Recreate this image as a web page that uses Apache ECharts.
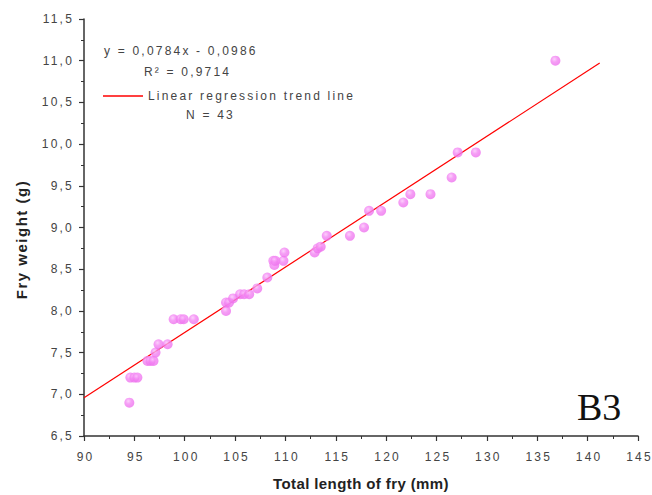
<!DOCTYPE html>
<html>
<head>
<meta charset="utf-8">
<script src="https://cdn.jsdelivr.net/npm/echarts@6/dist/echarts.min.js"></script>
<style>
  html, body { margin: 0; padding: 0; background: #fff; }
  #chart { width: 652px; height: 495px; }
  /* loosely tracked Arial-style lettering */
  #chart text { letter-spacing: 2.2px; }
  #chart text.title { letter-spacing: 0.4px; }
  #chart text.ytitle { letter-spacing: 1.5px; }
  #chart text.tight { letter-spacing: 0; }
</style>
</head>
<body>
<div id="chart"></div>
<script>
// Total length (mm) and weight (g) of each measured fry
const lengthMm = [
  94.5, 94.6, 95.0, 95.3, 96.3, 96.6, 96.9, 97.1, 97.4, 98.3,
  98.9, 99.6, 99.9, 100.9, 104.1, 104.1, 104.4, 104.8, 105.5, 105.9,
  106.4, 107.2, 108.2, 108.8, 108.9, 109.0, 109.8, 109.9, 112.9, 113.2,
  113.5, 114.1, 116.4, 117.8, 118.3, 119.5, 121.7, 122.4, 124.4, 126.5,
  127.1, 128.9, 136.8
];
const weightG = [
  6.9, 7.2, 7.2, 7.2, 7.4, 7.4, 7.4, 7.5, 7.6, 7.6,
  7.9, 7.9, 7.9, 7.9, 8.0, 8.1, 8.1, 8.15, 8.2, 8.2,
  8.2, 8.27, 8.4, 8.6, 8.55, 8.6, 8.6, 8.7, 8.7, 8.75,
  8.77, 8.9, 8.9, 9.0, 9.2, 9.2, 9.3, 9.4, 9.4, 9.6,
  9.9, 9.9, 11.0
];

// Fitted regression y = a·x + b, drawn over this length range
const slope = 0.0784;
const intercept = -0.0986;
const trendX = [90, 141.2];

const xTicks = { min: 90, max: 145, step: 5 };
const yTicks = { min: 6.5, max: 11.5, step: 0.5 };

const labelLines = ['y = 0,0784x - 0,0986', 'R\u00b2 = 0,9714', 'N = 43'];
const trendName = 'Linear regression trend line';
const xName = 'Total length of fry (mm)';
const yName = 'Fry weight (g)';
const panelTag = 'B3';

const points = lengthMm.map((x, i) => [x, weightG[i]]);
const trend = trendX.map(x => [x, slope * x + intercept]);

const fmt = v => v.toFixed(1).replace('.', ',');
const labelFont = 'Liberation Sans, Arial, sans-serif';

const chart = echarts.init(document.getElementById('chart'), null, { renderer: 'svg' });
chart.setOption({
  animation: false,
  backgroundColor: '#ffffff',
  grid: { left: 84, right: 14, top: 19, bottom: 59, containLabel: false, outerBoundsMode: 'none' },
  xAxis: {
    type: 'value',
    min: xTicks.min, max: xTicks.max, interval: xTicks.step,
    name: xName,
    nameLocation: 'middle', nameGap: 40,
    nameTextStyle: { fontFamily: labelFont, fontWeight: 'bold', fontSize: 15, color: '#222' },
    axisLine: { lineStyle: { color: '#333', width: 1.5 } },
    axisTick: { inside: false, length: 5, lineStyle: { color: '#333', width: 1.2 } },
    minorTick: { show: true, splitNumber: 2, length: 3, lineStyle: { color: '#333', width: 1 } },
    axisLabel: { margin: 15, fontFamily: labelFont, fontSize: 12, color: '#444',
                 padding: [0, 0, 0, 3], formatter: v => String(v) },
    splitLine: { show: false }
  },
  yAxis: {
    type: 'value',
    min: yTicks.min, max: yTicks.max, interval: yTicks.step,
    name: yName,
    nameLocation: 'middle', nameGap: 55, nameRotate: 90,
    nameTextStyle: { fontFamily: labelFont, fontWeight: 'bold', fontSize: 15, color: '#222',
                     padding: [0, 24, 0, 0] },
    axisLine: { show: true, lineStyle: { color: '#333', width: 1.5 } },
    axisTick: { show: true, inside: false, length: 5, lineStyle: { color: '#333', width: 1.2 } },
    minorTick: { show: true, splitNumber: 2, length: 3, lineStyle: { color: '#333', width: 1 } },
    axisLabel: { margin: 10, fontFamily: labelFont, fontSize: 12, color: '#444', formatter: v => fmt(v) },
    splitLine: { show: false }
  },
  legend: {
    data: [{ name: trendName, icon: 'rect' }],
    left: 103, top: 90, padding: 0,
    itemWidth: 40, itemHeight: 1.5, itemGap: 0,
    selectedMode: false,
    textStyle: { fontFamily: labelFont, fontSize: 12, color: '#444', padding: [0, 0, 0, 0] }
  },
  series: [
    {
      name: trendName,
      type: 'line',
      data: trend,
      showSymbol: false,
      lineStyle: { color: '#ff0000', width: 1.2 },
      itemStyle: { color: '#ff0000' },
      z: 2
    },
    {
      name: 'Fry',
      type: 'scatter',
      data: points,
      symbolSize: 10,
      itemStyle: {
        color: {
          type: 'radial', x: 0.4, y: 0.35, r: 0.6,
          colorStops: [
            { offset: 0, color: '#fbc4fb' },
            { offset: 0.5, color: '#f386f3' },
            { offset: 1, color: '#ee74ee' }
          ]
        }
      },
      z: 3
    }
  ],
  graphic: [
    {
      type: 'text', left: 104, top: 45,
      style: { text: labelLines[0], font: '12px ' + labelFont, fill: '#444' }
    },
    {
      type: 'text', left: 144, top: 66,
      style: { text: labelLines[1], font: '12px ' + labelFont, fill: '#444' }
    },
    {
      type: 'text', left: 186, top: 109,
      style: { text: labelLines[2], font: '12px ' + labelFont, fill: '#444' }
    },
    {
      type: 'text', left: 577, top: 388,
      style: { text: panelTag, font: '38px Liberation Serif, Times New Roman, serif', fill: '#111' }
    }
  ]
});

// axis titles get a lighter tracking, the large panel tag none
document.querySelectorAll('#chart text').forEach(t => {
  const s = t.textContent;
  if (s === panelTag) t.classList.add('tight');
  else if (s === xName) t.classList.add('title');
  else if (s === yName) t.classList.add('ytitle');
});
</script>
</body>
</html>
